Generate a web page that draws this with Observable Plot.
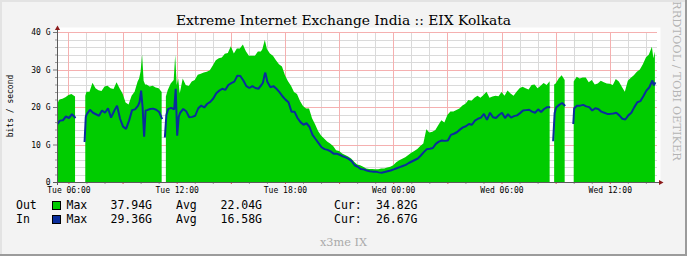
<!DOCTYPE html>
<html><head><meta charset="utf-8">
<script src="https://cdn.jsdelivr.net/npm/d3@7"></script>
<script src="https://cdn.jsdelivr.net/npm/@observablehq/plot@0.6"></script>
<style>
html,body{margin:0;padding:0;background:#f3f3f3}
#wrap{position:relative;width:687px;height:256px;background:#f3f3f3;overflow:hidden}
#wrap svg{position:absolute;left:0;top:0}
.t{position:absolute;white-space:pre}
.blk{position:absolute}
</style></head><body>
<div id="wrap"></div>
<script>
// time = minutes since Tue 00:00; values in Gbit/s; null = no data
const times = [
  322,330,340,350,360,370,382,398,
  412,416,420,430,440,450,460,470,480,490,
  500,510,520,530,540,550,560,570,580,590,
  595,600,605,610,615,620,630,640,650,660,
  670,675,
  679,684,690,700,710,715,720,725,730,740,
  750,760,770,780,790,800,810,820,830,840,
  850,860,870,880,890,900,910,920,930,940,
  950,960,970,980,990,1000,1005,1010,1013,1020,
  1030,1040,1050,1060,1070,1080,1090,1100,1110,1120,
  1130,1140,1150,1160,1170,1180,1190,1200,1210,1220,
  1230,1240,1250,1260,1270,1280,1290,1300,1310,1320,
  1330,1340,1350,1360,1370,1380,1390,1400,1410,1420,
  1430,1440,1450,1460,1470,1480,1490,1500,1510,1520,
  1530,1540,1550,1560,1570,1580,1590,1600,1610,1620,
  1630,1640,1650,1660,1670,1680,1690,1700,1710,1720,
  1730,1740,1750,1760,1770,1780,1790,1800,1810,1820,
  1830,1840,1850,1860,1870,1880,1890,1900,1910,1920,
  1930,1940,1950,1960,1965,
  1970,1975,1980,1990,2000,2010,2025,
  2037,2040,2050,2060,2070,2080,2090,2100,2110,2120,
  2130,2140,2150,2160,2170,2180,2190,2200,2210,2220,
  2230,2240,2250,2260,2270,2280,2290,2300,2305,2310
];
const outG = [
  20.8,22.0,22.2,22.6,23.2,23.5,22.8,null,
  null,23.0,24.1,24.1,26.5,25.0,24.5,24.3,25.5,25.7,
  25.0,24.8,26.6,25.0,23.6,21.2,20.7,23.0,24.1,26.8,
  27.6,29.5,34.0,27.0,26.0,26.0,25.5,25.7,25.2,25.0,
  24.0,null,
  null,22.8,24.5,26.3,27.2,33.9,25.9,27.6,23.6,27.6,
  25.9,25.6,26.8,27.2,28.6,28.9,29.2,29.4,29.8,31.1,
  32.5,33.0,33.2,34.2,34.4,36.2,34.3,35.6,35.6,36.7,
  34.9,33.7,33.7,33.7,34.8,34.8,35.5,37.0,37.9,35.5,
  34.3,33.7,32.5,31.4,30.8,28.5,26.9,25.7,24.0,23.5,
  21.6,20.3,19.6,19.6,17.0,15.4,13.6,12.4,11.6,10.8,
  10.3,9.6,8.5,8.3,7.6,7.2,6.8,6.3,5.4,4.7,
  4.5,4.1,3.6,3.5,3.5,3.4,3.4,3.6,3.6,3.9,
  4.1,4.5,5.3,5.8,6.2,6.6,7.2,7.8,8.3,8.8,
  9.6,10.3,14.1,13.2,13.4,13.9,15.2,16.5,15.9,17.9,
  18.8,18.8,19.2,19.6,20.4,20.9,21.9,21.7,22.5,23.0,
  22.5,23.2,24.1,22.5,22.8,23.0,22.9,24.0,23.0,24.4,
  23.6,23.0,24.1,25.0,25.4,25.0,24.7,25.9,26.0,25.0,
  25.7,26.4,25.9,26.9,null,
  null,26.0,26.3,27.6,28.5,27.2,null,
  null,26.8,28.1,27.6,27.9,27.9,26.6,27.2,26.0,26.3,
  27.0,26.6,26.3,26.2,25.9,27.5,26.8,25.4,24.1,27.0,
  27.8,28.5,29.4,30.0,31.4,33.2,34.0,36.1,33.0,34.8
];
const inG = [
  15.6,16.5,16.6,17.6,17.2,18.2,17.2,null,
  10.8,17.5,18.3,19.4,18.6,18.2,17.8,19.2,18.6,19.8,
  17.3,19.0,20.5,17.0,14.9,14.3,16.5,19.3,19.5,20.5,
  21.5,24.5,20.0,12.2,19.2,19.3,19.6,19.7,19.4,18.8,
  16.9,null,
  12.0,18.0,19.6,19.9,19.5,25.0,12.5,17.5,18.6,19.6,
  19.0,17.4,17.5,17.8,19.8,20.5,20.0,21.0,21.5,22.4,
  23.8,24.5,25.0,24.7,26.0,26.5,26.9,28.5,28.4,27.2,
  25.7,25.2,25.7,25.2,25.0,26.0,26.6,28.5,29.3,26.8,
  25.4,25.7,25.0,24.1,23.0,22.1,21.4,18.9,18.9,17.2,
  16.1,15.4,15.8,14.8,12.7,11.6,10.5,9.4,8.9,8.7,
  8.3,7.7,7.7,7.4,7.0,6.7,6.3,5.7,4.6,4.2,
  3.6,3.5,3.2,3.0,2.9,2.9,2.7,2.6,2.8,3.0,
  3.2,3.5,3.8,4.1,4.4,4.7,5.2,5.6,6.0,6.4,
  7.2,8.1,8.9,9.0,9.2,10.3,10.9,11.2,11.1,11.2,
  12.7,13.0,13.4,14.1,14.7,15.0,15.6,15.4,16.5,17.0,
  17.3,18.3,16.7,18.6,17.4,17.2,18.0,18.6,17.2,18.2,
  17.3,17.7,17.9,18.5,19.2,19.3,19.4,18.9,18.6,19.5,
  18.8,19.6,20.1,20.1,null,
  11.0,18.5,20.0,20.7,21.2,20.4,null,
  15.6,19.8,20.5,20.5,20.7,20.3,20.1,19.2,19.8,19.6,
  18.9,18.6,18.3,18.3,18.4,18.6,17.9,17.0,16.8,17.9,
  18.6,20.1,21.4,21.7,23.0,24.5,25.4,27.2,25.9,26.7
];
if (times.length !== outG.length || times.length !== inG.length)
  throw new Error("length mismatch " + times.length + " " + outG.length + " " + inG.length);

const xTickTimes = [360, 720, 1080, 1440, 1800, 2160];
const xTickLabels = ["Tue 06:00", "Tue 12:00", "Tue 18:00", "Wed 00:00", "Wed 06:00", "Wed 12:00"];
const yTickValues = [0, 10, 20, 30, 40];
const yTickLabels = ["0", "10 G", "20 G", "30 G", "40 G"];
const xDomain = [322, 2317];
const yDomain = [0, 40];

const legendRows = [
  {name: "Out", color: "#00CC00", max: "37.94G", avg: "22.04G", cur: "34.82G"},
  {name: "In",  color: "#0A2D9C", max: "29.36G", avg: "16.58G", cur: "26.67G"}
];

const rows = times.map((t, i) => ({t, out: outG[i], inb: inG[i]}));
const hourAll = d3.range(360, xDomain[1], 60);
const hourMajor = hourAll.filter(d => d % 180 === 0);
const hourMinor = hourAll.filter(d => d % 180 !== 0);
const gAll = d3.range(2, 40.1, 2);
const gMajor = gAll.filter(d => d % 10 === 0);
const gMinor = gAll.filter(d => d % 10 !== 0);
const xLab = new Map(xTickTimes.map((d, i) => [d, xTickLabels[i]]));
const yLab = new Map(yTickValues.map((d, i) => [d, yTickLabels[i]]));

const triUp = {draw(ctx, size) { const a = Math.sqrt(size) * 0.85; ctx.moveTo(0, -a); ctx.lineTo(a * 0.866, a / 2); ctx.lineTo(-a * 0.866, a / 2); ctx.closePath(); }};
const triRight = {draw(ctx, size) { const a = Math.sqrt(size) * 0.85; ctx.moveTo(a, 0); ctx.lineTo(-a / 2, a * 0.866); ctx.lineTo(-a / 2, -a * 0.866); ctx.closePath(); }};

const minorGrid = "#dadada", majorGrid = "#f5b0b0", axisColor = "#5a5a5a", arrowColor = "#8c1a1a";
const gridOpts = {strokeWidth: 1, strokeOpacity: 1, shapeRendering: "crispEdges"};

const chart = Plot.plot({
  width: 687, height: 256,
  marginLeft: 57, marginRight: 30, marginTop: 32, marginBottom: 74,
  style: {background: "transparent", fontFamily: "DejaVu Sans Mono", fontSize: "8px", color: "#000", overflow: "visible"},
  x: {type: "linear", domain: xDomain, axis: null, label: null},
  y: {domain: yDomain, axis: null, label: null},
  marks: [
    Plot.frame({fill: "white", stroke: null, insetTop: -5, insetRight: -3}),
    Plot.ruleX(hourMinor, {x: d => d, stroke: minorGrid, ...gridOpts}),
    Plot.ruleY(gMinor, {y: d => d, stroke: minorGrid, ...gridOpts}),
    Plot.ruleX(hourMajor, {x: d => d, stroke: majorGrid, ...gridOpts}),
    Plot.ruleY(gMajor, {y: d => d, stroke: majorGrid, ...gridOpts}),
    Plot.areaY(rows, {x: "t", y1: 0, y2: "out", fill: "#00CC00"}),
    Plot.lineY(rows, {x: "t", y: "inb", stroke: "#0A2D9C", strokeWidth: 2, strokeLinejoin: "miter", strokeLinecap: "butt"}),
    Plot.axisX(hourMinor, {tickSize: 2, stroke: "#999", tickFormat: () => "", label: null}),
    Plot.axisX(hourMajor, {tickSize: 2, stroke: "#e05050", tickFormat: () => "", label: null}),
    Plot.axisX(xTickTimes, {tickSize: 0, tickPadding: 5, tickFormat: d => xLab.get(d), fontSize: 8, fill: "#000", label: null}),
    Plot.axisY(gMinor, {tickSize: 2, stroke: "#999", tickFormat: () => "", label: null}),
    Plot.axisY(yTickValues, {tickSize: 4, stroke: "#777", tickFormat: () => "", label: null}),
    Plot.axisY(yTickValues, {tickSize: 0, tickPadding: 7, tickFormat: d => yLab.get(d), fontSize: 8, fill: "#000", label: null}),
    Plot.ruleX([xDomain[0]], {stroke: axisColor, insetTop: -4, insetBottom: -3}),
    Plot.ruleY([yDomain[0]], {stroke: axisColor, insetLeft: -4, insetRight: -3}),
    Plot.dot([{x: xDomain[0], y: yDomain[1]}], {x: "x", y: "y", symbol: triUp, r: 2, fill: arrowColor, stroke: null, dy: -4}),
    Plot.dot([{x: xDomain[1], y: yDomain[0]}], {x: "x", y: "y", symbol: triRight, r: 2, fill: arrowColor, stroke: null, dx: 3})
  ]
});
const wrap = document.getElementById("wrap");
wrap.appendChild(chart);

function addText(str, x, baseline, o) {
  const d = document.createElement("div");
  d.className = "t";
  d.textContent = str;
  d.style.fontFamily = o.family;
  d.style.fontSize = o.size + "px";
  d.style.lineHeight = o.size + "px";
  d.style.color = o.color || "#000";
  d.style.left = x + "px";
  d.style.top = (baseline - 0.846 * o.size) + "px";
  if (o.anchor === "middle") d.style.transform = "translateX(-50%)";
  wrap.appendChild(d);
}
function addRotated(str, cx, cy, deg, o) {
  const d = document.createElement("div");
  d.className = "t";
  d.textContent = str;
  d.style.fontFamily = o.family;
  d.style.fontSize = o.size + "px";
  d.style.lineHeight = o.size + "px";
  d.style.color = o.color || "#000";
  d.style.left = cx + "px";
  d.style.top = cy + "px";
  d.style.transform = `translate(-50%,-50%) rotate(${deg}deg)`;
  wrap.appendChild(d);
}
function addBlock(x, y, w, h, bg, border) {
  const d = document.createElement("div");
  d.className = "blk";
  d.style.left = x + "px"; d.style.top = y + "px";
  d.style.width = w + "px"; d.style.height = h + "px";
  d.style.background = bg;
  if (border) d.style.border = border;
  wrap.appendChild(d);
}

const serif = "'DejaVu Serif', serif", mono = "'DejaVu Sans Mono', monospace";
addText("Extreme Internet Exchange India :: EIX Kolkata", 343.5, 26, {family: serif, size: 13.8, anchor: "middle"});
addRotated("bits / second", 10.5, 106, -90, {family: mono, size: 8});
addRotated("RRDTOOL / TOBI OETIKER", 676, 81, 90, {family: serif, size: 11.4, color: "#b4b4b4"});

legendRows.forEach((r, i) => {
  const base = 210 + i * 14;
  const opts = {family: mono, size: 11.5};
  addText(r.name, 16, base, opts);
  addBlock(52, base - 9, 7, 7, r.color, "1px solid #000");
  addText("Max", 66.5, base, opts);
  addText(r.max, 110.5, base, opts);
  addText("Avg", 176, base, opts);
  addText(r.avg, 220.5, base, opts);
  addText("Cur:", 334, base, opts);
  addText(r.cur, 376, base, opts);
});
addText("x3me IX", 320, 247, {family: serif, size: 11.3, color: "#aaaaaa"});

// 3D border
addBlock(0, 0, 687, 2, "#e3e3e3");
addBlock(0, 0, 2, 256, "#e3e3e3");
addBlock(685, 0, 2, 256, "#9b9b9b");
addBlock(0, 254, 687, 2, "#9b9b9b");
</script>
</body></html>
